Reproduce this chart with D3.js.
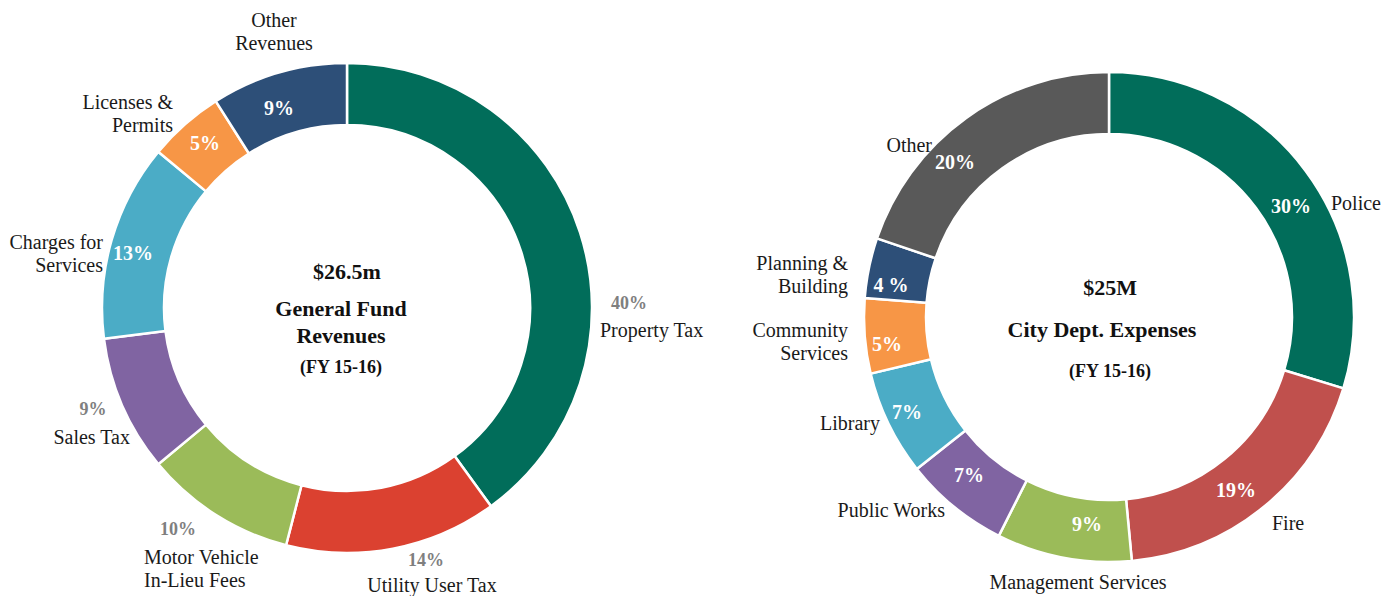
<!DOCTYPE html>
<html>
<head>
<meta charset="utf-8">
<script src="https://cdn.jsdelivr.net/npm/d3@7"></script>
<style>
  html, body { margin: 0; padding: 0; background: #ffffff; }
  svg { display: block; }
  text { font-family: "Liberation Serif", "Times New Roman", serif; }
</style>
</head>
<body>
<svg id="chart" width="1384" height="596"></svg>
<script>
// General Fund revenues (FY 15-16)
const revenueCategories = ["Property Tax", "Utility User Tax", "Motor Vehicle In-Lieu Fees", "Sales Tax",
  "Charges for Services", "Licenses & Permits", "Other Revenues"];
const revenueValues = [40, 14, 10, 9, 13, 5, 9];
const revenueColors = ["#016d5a", "#db4130", "#9bbb59", "#8064a2", "#4bacc6", "#f79646", "#2d4f78"];

// City department expenses (FY 15-16)
const expenseCategories = ["Police", "Fire", "Management Services", "Public Works", "Library",
  "Community Services", "Planning & Building", "Other"];
const expenseValues = [30, 19, 9, 7, 7, 5, 4, 20];
const expenseColors = ["#016d5a", "#c0504d", "#9bbb59", "#8064a2", "#4bacc6", "#f79646", "#2d4f78", "#595959"];
const expensePctText = ["30%", "19%", "9%", "7%", "7%", "5%", "4 %", "20%"];

// Label layout, relative to each donut's centre.
// name: lines, anchor, x, first-line y; pct: inside (white) or outside (grey), x, y
const revenueLabelLayout = [
  { lines: ["Property Tax"], anchor: "start", x: 253, y: 22, pct: "out", px: 282, py: -5 },
  { lines: ["Utility User Tax"], anchor: "middle", x: 85, y: 277, pct: "out", px: 79, py: 252 },
  { lines: ["Motor Vehicle", "In-Lieu Fees"], anchor: "start", x: -203, y: 249, pct: "out", px: -169, py: 221 },
  { lines: ["Sales Tax"], anchor: "end", x: -217, y: 129, pct: "out", px: -254, py: 101 },
  { lines: ["Charges for", "Services"], anchor: "end", x: -244, y: -66, pct: "in", px: -214, py: -55 },
  { lines: ["Licenses &", "Permits"], anchor: "end", x: -174, y: -206, pct: "in", px: -142, py: -165 },
  { lines: ["Other", "Revenues"], anchor: "middle", x: -73, y: -288, pct: "in", px: -68, py: -200 }
];
const expenseLabelLayout = [
  { lines: ["Police"], anchor: "start", x: 222, y: -114, px: 182, py: -111 },
  { lines: ["Fire"], anchor: "start", x: 163, y: 206, px: 127, py: 173 },
  { lines: ["Management Services"], anchor: "middle", x: -31, y: 265, px: -22, py: 207 },
  { lines: ["Public Works"], anchor: "end", x: -164, y: 193, px: -140, py: 158 },
  { lines: ["Library"], anchor: "end", x: -229, y: 106, px: -202, py: 95 },
  { lines: ["Community", "Services"], anchor: "end", x: -261, y: 13, px: -222, py: 27 },
  { lines: ["Planning &", "Building"], anchor: "end", x: -261, y: -54, px: -218, py: -32 },
  { lines: ["Other"], anchor: "end", x: -177, y: -172, px: -154, py: -155 }
];

const svg = d3.select("#chart");
const outerR = 245, innerR = 183;
const arc = d3.arc().innerRadius(innerR).outerRadius(outerR);
const pie = d3.pie().sort(null).value(d => d);

function drawDonut(cx, cy, values, colors, layout, pctText, pctMode, centreLines) {
  const g = svg.append("g").attr("transform", `translate(${cx},${cy})`);
  const arcs = pie(values);

  g.selectAll("path.slice")
    .data(arcs)
    .join("path")
    .attr("class", "slice")
    .attr("d", arc)
    .attr("fill", (d, i) => colors[i])
    .attr("stroke", "#ffffff")
    .attr("stroke-width", 2.5)
    .attr("stroke-linejoin", "round");

  // percentage labels
  g.selectAll("text.pct")
    .data(arcs)
    .join("text")
    .attr("class", "pct")
    .attr("x", (d, i) => layout[i].px)
    .attr("y", (d, i) => layout[i].py)
    .attr("dy", "0.35em")
    .attr("text-anchor", "middle")
    .attr("font-weight", "bold")
    .attr("font-size", (d, i) => pctMode(i) === "in" ? 20 : 18)
    .attr("fill", (d, i) => pctMode(i) === "in" ? "#ffffff" : "#7f7f7f")
    .text((d, i) => pctText(d, i));

  // category labels
  layout.forEach(l => {
    const t = g.append("text")
      .attr("text-anchor", l.anchor)
      .attr("font-size", 20)
      .attr("fill", "#1a1a1a");
    l.lines.forEach((line, k) => {
      t.append("tspan")
        .attr("x", l.x)
        .attr("y", l.y + k * 23)
        .attr("dy", "0.35em")
        .text(line);
    });
  });

  // centre title
  centreLines.forEach(c => {
    g.append("text")
      .attr("x", c.x)
      .attr("y", c.y)
      .attr("dy", "0.35em")
      .attr("text-anchor", "middle")
      .attr("font-weight", "bold")
      .attr("font-size", c.size)
      .attr("fill", "#111111")
      .text(c.text);
  });
}

drawDonut(347, 308, revenueValues, revenueColors, revenueLabelLayout,
  (d, i) => revenueValues[i] + "%",
  i => revenueLabelLayout[i].pct,
  [
    { text: "$26.5m", x: 0, y: -37, size: 22 },
    { text: "General Fund", x: -6, y: 0, size: 22 },
    { text: "Revenues", x: -6, y: 27, size: 22 },
    { text: "(FY 15-16)", x: -6, y: 59, size: 18 }
  ]);

drawDonut(1109, 317, expenseValues, expenseColors, expenseLabelLayout,
  (d, i) => expensePctText[i],
  i => "in",
  [
    { text: "$25M", x: 1, y: -30, size: 22 },
    { text: "City Dept. Expenses", x: -7, y: 12, size: 22 },
    { text: "(FY 15-16)", x: 1, y: 54, size: 18 }
  ]);
</script>
</body>
</html>
